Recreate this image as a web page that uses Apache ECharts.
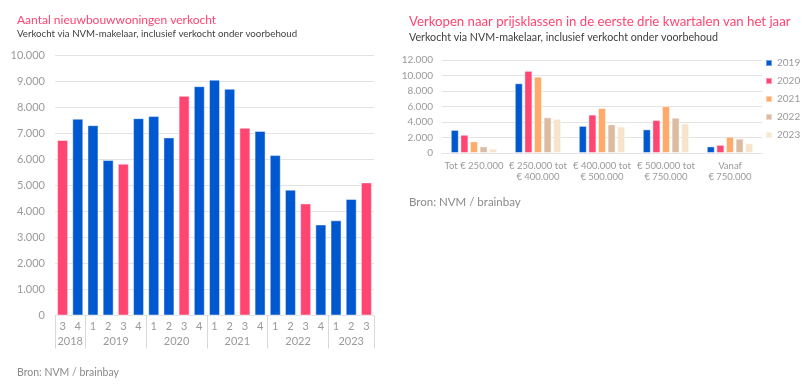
<!DOCTYPE html>
<html>
<head>
<meta charset="utf-8">
<script src="https://cdn.jsdelivr.net/npm/echarts@6/dist/echarts.min.js"></script>
<style>
html,body{margin:0;padding:0;background:#fff;}
#c{width:806px;height:388px;}
</style>
</head>
<body>
<div id="c"></div>
<script>
// ---- Left chart data ----
const quarterLabels = ['3','4','1','2','3','4','1','2','3','4','1','2','3','4','1','2','3','4','1','2','3'];
const quarterYears  = ['2018','2018','2019','2019','2019','2019','2020','2020','2020','2020','2021','2021','2021','2021','2022','2022','2022','2022','2023','2023','2023'];
const salesPerQuarter = [6750,7570,7320,5980,5840,7590,7670,6850,8450,8820,9070,8720,7220,7100,6170,4840,4310,3500,3660,4480,5120];
const leftTicks = [0,1000,2000,3000,4000,5000,6000,7000,8000,9000,10000];

// ---- Right chart data ----
const priceClasses = ['Tot € 250.000','€ 250.000 tot\n€ 400.000','€ 400.000 tot\n€ 500.000','€ 500.000 tot\n€ 750.000','Vanaf\n€ 750.000'];
const years = ['2019','2020','2021','2022','2023'];
const sales2019 = [2980,9000,3500,3050,850];
const sales2020 = [2350,10600,4950,4250,1050];
const sales2021 = [1500,9850,5800,6050,2100];
const sales2022 = [850,4600,3700,4550,1850];
const sales2023 = [560,4400,3400,3800,1250];
const rightTicks = [0,2000,4000,6000,8000,10000,12000];

// ---- styling ----
const FONT = 'Lato';
const BLUE = '#0058d1', PINK = '#ff4571';
const yearColors = [BLUE, PINK, '#ffa96b', '#dcbba3', '#f6e4cc'];
const GRID = '#e3e3e3', LABEL = '#9a9a9a';
const fmt = v => String(v).replace(/\B(?=(\d{3})+(?!\d))/g, '.');

// year groups on a half-category scale (unique category names)
const halfCount = quarterLabels.length * 2;
const halfCats = [];
for (let i = 0; i <= halfCount; i++) halfCats.push('h' + i);
const boundaries = [0];
const centers = {};
let start = 0;
for (let i = 1; i <= quarterYears.length; i++) {
  if (i === quarterYears.length || quarterYears[i] !== quarterYears[i-1]) {
    boundaries.push(i * 2);
    centers[start + i] = quarterYears[i-1];
    start = i;
  }
}

const seriesRight = [sales2019, sales2020, sales2021, sales2022, sales2023].map((d, k) => ({
  name: years[k], type: 'bar', xAxisIndex: 2, yAxisIndex: 1,
  data: d, barWidth: 8, barGap: '20%',
  itemStyle: { color: yearColors[k], borderColor: 'rgba(255,255,255,0.45)', borderWidth: 1 }
}));

const chart = echarts.init(document.getElementById('c'), null, { renderer: 'canvas' });
chart.setOption({
  animation: false,
  textStyle: { fontFamily: FONT },
  title: [
    { text: 'Aantal nieuwbouwwoningen verkocht', left: 12, top: 9,
      textStyle: { fontFamily: FONT, fontSize: 12, fontWeight: 'normal', color: PINK } },
    { text: 'Verkocht via NVM-makelaar, inclusief verkocht onder voorbehoud', left: 12, top: 24,
      textStyle: { fontFamily: FONT, fontSize: 9.7, fontWeight: 'normal', color: '#404040' } },
    { text: 'Bron: NVM / brainbay', left: 12, top: 362,
      textStyle: { fontFamily: FONT, fontSize: 10.5, fontWeight: 'normal', color: '#8a8a8a' } },
    { text: 'Verkopen naar prijsklassen in de eerste drie kwartalen van het jaar', left: 404, top: 10,
      textStyle: { fontFamily: FONT, fontSize: 13.2, fontWeight: 'normal', color: PINK } },
    { text: 'Verkocht via NVM-makelaar, inclusief verkocht onder voorbehoud', left: 404, top: 27,
      textStyle: { fontFamily: FONT, fontSize: 10.7, fontWeight: 'normal', color: '#404040' } },
    { text: 'Bron: NVM / brainbay', left: 404, top: 191,
      textStyle: { fontFamily: FONT, fontSize: 11.5, fontWeight: 'normal', color: '#8a8a8a' } }
  ],
  legend: {
    data: years, orient: 'vertical', left: 765, top: 58, padding: 0, itemWidth: 6, itemHeight: 6, itemGap: 8,
    icon: 'rect', textStyle: { fontFamily: FONT, fontSize: 10, color: LABEL }
  },
  grid: [
    { left: 55, right: 432, top: 55.5, bottom: 72.5 },
    { left: 442, right: 44, top: 60, bottom: 235 }
  ],
  xAxis: [
    { type: 'category', gridIndex: 0, data: quarterLabels,
      axisLine: { show: true, lineStyle: { color: GRID } }, axisTick: { show: false },
      axisLabel: { interval: 0, color: LABEL, fontSize: 11, margin: 5, fontFamily: FONT } },
    { type: 'category', gridIndex: 0, data: halfCats, boundaryGap: false, position: 'bottom',
      axisLine: { show: false },
      axisTick: { show: true, length: 33, interval: (i) => boundaries.includes(i), lineStyle: { color: '#d9d9d9' } },
      axisLabel: { show: true, interval: (i) => centers[i] !== undefined,
        formatter: (v, i) => centers[i] || '', color: LABEL, fontSize: 11, margin: 20, fontFamily: FONT } },
    { type: 'category', gridIndex: 1, data: priceClasses,
      axisLine: { show: true, lineStyle: { color: GRID } }, axisTick: { show: false },
      axisLabel: { interval: 0, color: LABEL, fontSize: 9.5, margin: 7, lineHeight: 11, fontFamily: FONT } }
  ],
  yAxis: [
    { type: 'value', gridIndex: 0, min: leftTicks[0], max: leftTicks[leftTicks.length-1], interval: leftTicks[1]-leftTicks[0],
      axisLine: { show: false }, axisTick: { show: false },
      splitLine: { lineStyle: { color: GRID } },
      axisLabel: { formatter: fmt, color: LABEL, fontSize: 11, margin: 10, fontFamily: FONT } },
    { type: 'value', gridIndex: 1, min: rightTicks[0], max: rightTicks[rightTicks.length-1], interval: rightTicks[1]-rightTicks[0],
      axisLine: { show: false }, axisTick: { show: false },
      splitLine: { lineStyle: { color: GRID } },
      axisLabel: { formatter: fmt, color: LABEL, fontSize: 10, margin: 9, fontFamily: FONT } }
  ],
  series: [
    { type: 'bar', xAxisIndex: 0, yAxisIndex: 0, barWidth: 11,
      data: salesPerQuarter.map((v, i) => ({ value: v,
        itemStyle: { color: quarterLabels[i] === '3' ? PINK : BLUE } })),
      itemStyle: { borderColor: 'rgba(255,255,255,0.45)', borderWidth: 1 } }
  ].concat(seriesRight)
});
</script>
</body>
</html>
